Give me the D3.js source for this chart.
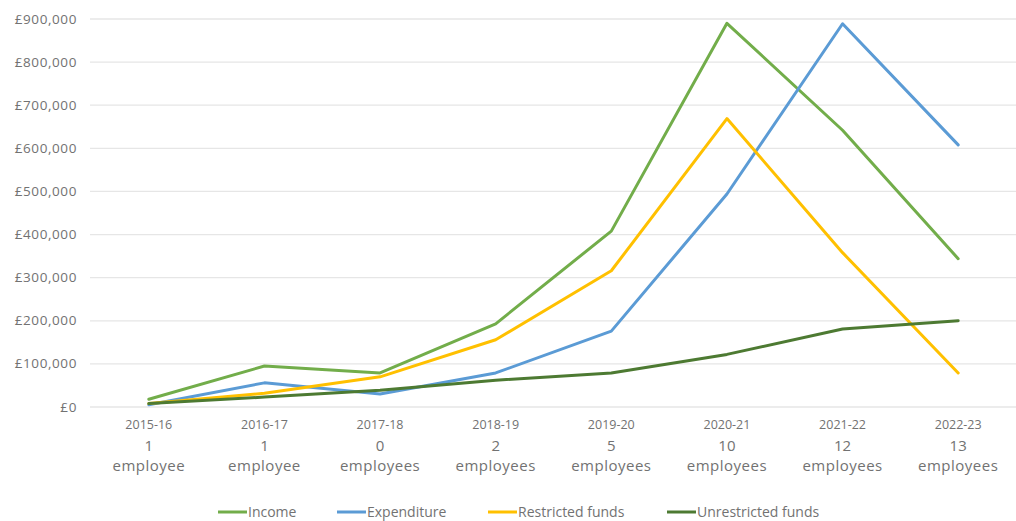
<!DOCTYPE html>
<html><head><meta charset="utf-8">
<script src="https://cdn.jsdelivr.net/npm/d3@7"></script>
<style>body{margin:0;background:#fff}svg{display:block}text{font-family:"Open Sans",sans-serif;fill:#727272}</style>
</head><body><svg id="c" width="1016" height="521"></svg>
<script>
const years = ["2015-16","2016-17","2017-18","2018-19","2019-20","2020-21","2021-22","2022-23"];
const staffCounts = ["1","1","0","2","5","10","12","13"];
const staffWords = ["employee","employee","employees","employees","employees","employees","employees","employees"];
const income = [18000,95000,79000,193000,408000,890000,642000,344000];
const expenditure = [5000,56000,30000,79000,176000,494000,889000,608000];
const restricted = [8000,32000,70000,156000,316000,669000,358000,79000];
const unrestricted = [8000,23000,39000,62000,79000,122000,181000,200000];
const yTicks = [0,100000,200000,300000,400000,500000,600000,700000,800000,900000];
const seriesNames = ["Income","Expenditure","Restricted funds","Unrestricted funds"];
const seriesColors = ["#72ad4a","#5b9bd5","#ffc000","#4d7a32"];
const seriesData = [income, expenditure, restricted, unrestricted];

const svg = d3.select("#c");
const x = d3.scaleBand().domain(years).range([91,1016]);
const y = d3.scaleLinear().domain([0,900000]).range([407,19]);

const gy = svg.append("g");
gy.selectAll("line").data(yTicks).join("line")
  .attr("x1",90).attr("x2",1016).attr("y1",d=>y(d)).attr("y2",d=>y(d))
  .attr("stroke","#e6e6e6").attr("stroke-width",1.3);
const fmt = d3.format(",");
gy.selectAll("text").data(yTicks).join("text")
  .attr("x",77).attr("y",d=>y(d)+4.5).attr("text-anchor","end")
  .attr("font-size",13.5).attr("letter-spacing",0.6).text(d=>"£"+fmt(d));

const gx = svg.append("g");
years.forEach((yr,i)=>{
  const cx = x(yr)+x.bandwidth()/2;
  gx.append("text").attr("x",cx).attr("y",429).attr("text-anchor","middle").attr("font-size",12.5).text(yr);
  gx.append("text").attr("x",cx).attr("y",451).attr("text-anchor","middle").attr("font-size",15).text(staffCounts[i]);
  gx.append("text").attr("x",cx).attr("y",471).attr("text-anchor","middle").attr("font-size",15).attr("letter-spacing",0.5).text(staffWords[i]);
});

const line = d3.line().x((d,i)=>x(years[i])+x.bandwidth()/2).y(d=>y(d));
seriesData.forEach((s,k)=>{
  svg.append("path").datum(s).attr("d",line).attr("fill","none")
    .attr("stroke",seriesColors[k]).attr("stroke-width",3).attr("stroke-linejoin","round").attr("stroke-linecap","round");
});

const legX = [218,337,488,667];
seriesNames.forEach((n,k)=>{
  svg.append("line").attr("x1",legX[k]).attr("x2",legX[k]+29).attr("y1",512).attr("y2",512)
    .attr("stroke",seriesColors[k]).attr("stroke-width",3);
  svg.append("text").attr("x",legX[k]+30).attr("y",517).attr("font-size",14).text(n);
});
</script></body></html>
